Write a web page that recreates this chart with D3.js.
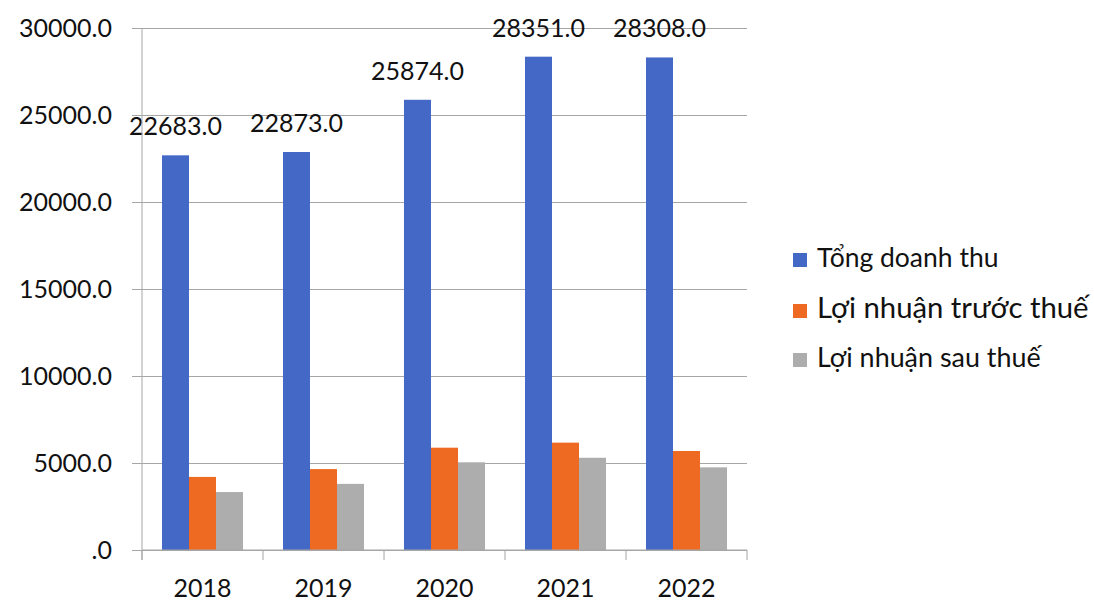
<!DOCTYPE html>
<html>
<head>
<meta charset="utf-8">
<script src="https://cdn.jsdelivr.net/npm/d3@7"></script>
<style>
  html, body { margin: 0; padding: 0; background: #fff; }
  svg text { font-family: Lato, "Noto Sans", sans-serif; fill: #111; }
</style>
</head>
<body>
<div id="chart"></div>
<script>
// Chart data
const years = ['2018', '2019', '2020', '2021', '2022'];
const seriesNames = ['Tổng doanh thu', 'Lợi nhuận trước thuế', 'Lợi nhuận sau thuế'];
const revenue = [22683, 22873, 25874, 28351, 28308];
const profitBeforeTax = [4200, 4650, 5880, 6170, 5690];
const profitAfterTax = [3330, 3800, 5040, 5300, 4750];
const yTicks = [0, 5000, 10000, 15000, 20000, 25000, 30000];

const COLORS = ['#4468c6', '#ee6a22', '#adadad'];

const W = 1094, H = 601;
const m = { top: 28, right: 347, bottom: 51, left: 142 };
const w = W - m.left - m.right;
const h = H - m.top - m.bottom;

const svg = d3.select('#chart').append('svg')
  .attr('width', W).attr('height', H);
const g = svg.append('g').attr('transform', `translate(${m.left},${m.top})`);

const x = d3.scaleBand().domain(years).range([0, w]).paddingInner(0).paddingOuter(0);
const xSub = d3.scaleBand().domain(d3.range(seriesNames.length))
  .range([0, x.bandwidth()]).paddingInner(0).paddingOuter(0.74);
const y = d3.scaleLinear().domain([0, 30000]).range([h, 0]);

const rows = years.map((yr, i) => ({
  year: yr,
  values: [revenue[i], profitBeforeTax[i], profitAfterTax[i]]
}));

// ── Gridlines + y labels ─────────────────────────────────────────────────
g.append('g')
  .attr('transform', 'translate(-10,0)')
  .call(d3.axisLeft(y).tickValues(yTicks).tickSizeInner(-(w + 10)).tickSizeOuter(0))
  .call(ax => ax.select('.domain').remove())
  .call(ax => ax.selectAll('line').attr('stroke', '#a6a6a6').attr('stroke-width', 1))
  .call(ax => ax.selectAll('text').remove());

g.append('g').selectAll('text.ylab')
  .data(yTicks)
  .join('text')
  .attr('class', 'ylab')
  .attr('x', -30)
  .attr('y', d => y(d) + 9)
  .attr('text-anchor', 'end')
  .attr('font-size', 25)
  .text(d => d === 0 ? '.0' : d.toFixed(1));

// ── Bars ─────────────────────────────────────────────────────────────────
const groups = g.append('g').selectAll('g.grp')
  .data(rows)
  .join('g')
  .attr('class', 'grp')
  .attr('transform', d => `translate(${x(d.year)},0)`);

groups.selectAll('rect')
  .data(d => d.values.map((v, si) => ({ v, si })))
  .join('rect')
  .attr('x', d => xSub(d.si))
  .attr('width', xSub.bandwidth())
  .attr('y', d => y(d.v))
  .attr('height', d => y(0) - y(d.v))
  .attr('fill', d => COLORS[d.si]);

// data labels (revenue only)
groups.append('text')
  .attr('x', xSub(0) + xSub.bandwidth() / 2)
  .attr('y', d => y(d.values[0]) - 20)
  .attr('text-anchor', 'middle')
  .attr('font-size', 25)
  .text(d => d.values[0].toFixed(1));

// ── Axes lines ───────────────────────────────────────────────────────────
const axisG = g.append('g').attr('stroke', '#a6a6a6').attr('stroke-width', 1);
axisG.append('line').attr('x1', 0).attr('x2', w).attr('y1', h).attr('y2', h);
axisG.append('line').attr('x1', 0).attr('x2', 0).attr('y1', 0).attr('y2', h + 10);
axisG.selectAll('line.xt')
  .data(years.concat(['end']))
  .join('line')
  .attr('class', 'xt')
  .attr('x1', (d, i) => i * x.step()).attr('x2', (d, i) => i * x.step())
  .attr('y1', h).attr('y2', h + 10);

g.append('g').selectAll('text.xlab')
  .data(years)
  .join('text')
  .attr('class', 'xlab')
  .attr('x', d => x(d) + x.bandwidth() / 2)
  .attr('y', h + 47)
  .attr('text-anchor', 'middle')
  .attr('font-size', 25)
  .text(d => d);

// ── Legend ───────────────────────────────────────────────────────────────
const legendBaselines = [267, 318, 367];
const legendSizes = [26.5, 29.3, 26.9];
const leg = svg.append('g');
seriesNames.forEach((name, i) => {
  leg.append('rect')
    .attr('x', 793).attr('y', legendBaselines[i] - 14)
    .attr('width', 14).attr('height', 14)
    .attr('fill', COLORS[i]);
  leg.append('text')
    .attr('x', 817).attr('y', legendBaselines[i])
    .attr('font-size', legendSizes[i])
    .text(name);
});
</script>
</body>
</html>
